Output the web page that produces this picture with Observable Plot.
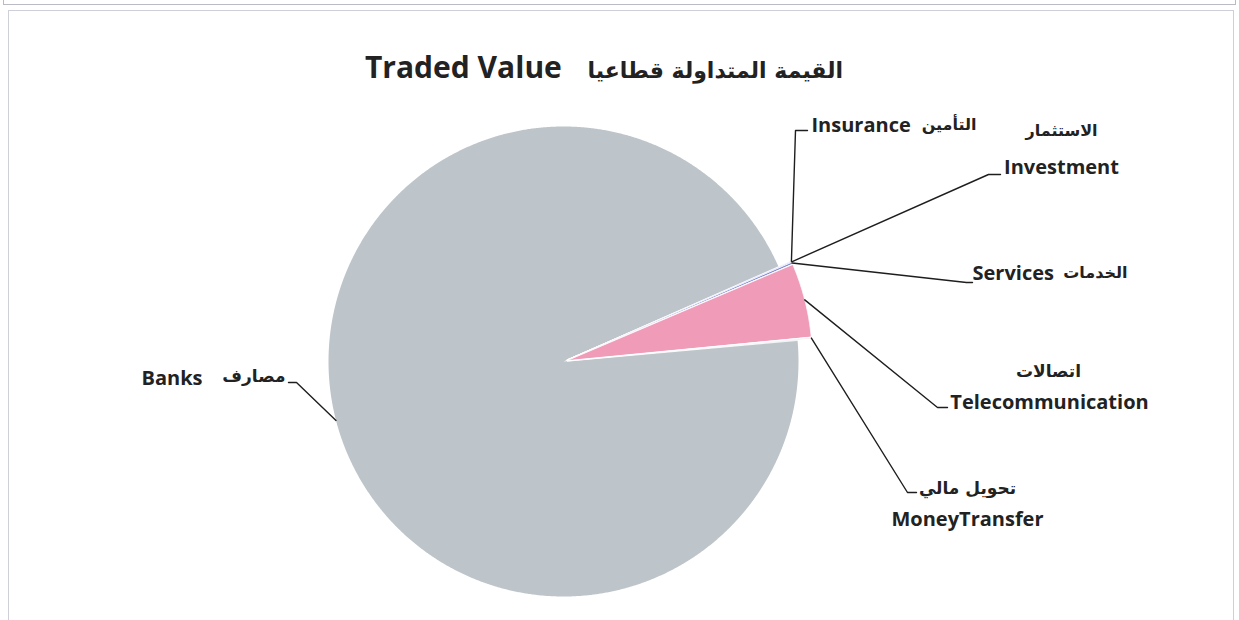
<!DOCTYPE html>
<html><head><meta charset="utf-8">
<script src="https://cdn.jsdelivr.net/npm/d3@7"></script>
<script src="https://cdn.jsdelivr.net/npm/@observablehq/plot@0.6"></script>
<style>
body{margin:0;background:#fff;width:1239px;height:620px;overflow:hidden;position:relative;font-family:"Open Sans","DejaVu Sans",sans-serif;}
#strip{position:absolute;left:3px;top:-2px;width:1231px;height:5px;border:1px solid #b9bcc4;}
#frame{position:absolute;left:8px;top:10px;width:1224px;height:640px;border:1px solid #cdd0d6;}
#title{position:absolute;left:365px;top:46px;width:478px;height:40px;display:flex;justify-content:space-between;align-items:baseline;color:#222;font-weight:700;white-space:nowrap;}
#title .en{font-family:"Open Sans",sans-serif;font-size:30px;}
#title .ar{font-family:"DejaVu Sans",sans-serif;font-size:22px;}
#chart{position:absolute;left:0;top:92px;}
</style></head>
<body>
<div id="strip"></div>
<div id="frame"></div>
<div id="title"><span class="en"></span><span class="ar" dir="rtl"></span></div>
<div id="chart"></div>
<script>
// ---- data ----
const titleEn = "Traded Value";
const titleAr = "القيمة المتداولة قطاعيا";
const sectorsEn = ["Insurance","Investment","Services","Telecommunication","MoneyTransfer","Banks"];
const sectorsAr = ["التأمين","الاستثمار","الخدمات","اتصالات","تحويل مالي","مصارف"];
const sectorValues = [0.03, 0.05, 0.12, 4.86, 0.1, 94.84];

// ---- styles / layout ----
const sectorColors = ["#8d9bd6","#9a8fcf","#7f8fd6","#f09bb7","#f2f2f6","#bdc5ca"];
const W = 1239, H = 528, TOP = 92;
const cx = 563, cy = 361 - TOP, rBase = 235, rSmall = 245, explode = 4;
const firstSliceDeg = 66.2;
// label layout (page coords): leader elbow + stub end, text pieces, arabic font size
const labelLayout = [
  {path:[[795,130],[807,130]], en:{x:811, y:125, a:"start"}, ar:{x:976, y:124, a:"end", fs:16}},
  {path:[[988,174],[1000,174]], en:{x:1061, y:167, a:"middle"}, ar:{x:1061, y:130, a:"middle", fs:16}},
  {path:[[966,282],[972,282]], en:{x:972, y:273, a:"start"}, ar:{x:1127, y:272, a:"end", fs:16}},
  {path:[[937,407],[947,407]], en:{x:1049, y:402, a:"middle"}, ar:{x:1048, y:371, a:"middle", fs:17}},
  {path:[[907,492],[916,492]], en:{x:967, y:519, a:"middle"}, ar:{x:967, y:488, a:"middle", fs:17}},
  {path:[[296,382],[288,382]], en:{x:141, y:378, a:"start"}, ar:{x:285, y:376, a:"end", fs:17}}
];

document.querySelector("#title .en").textContent = titleEn;
document.querySelector("#title .ar").textContent = titleAr;

const rows = sectorsEn.map((en,i)=>({en, ar:sectorsAr[i], value:sectorValues[i], color:sectorColors[i]}));
const a0 = firstSliceDeg*Math.PI/180;
const arcs = d3.pie().sort(null).value(d=>d.value).startAngle(a0).endAngle(a0+2*Math.PI)(rows);

function geom(a){
  const big = a.data.en === "Banks";
  const mid = (a.startAngle+a.endAngle)/2;
  const off = big ? 0 : explode;
  return {ox: cx + off*Math.sin(mid), oy: cy - off*Math.cos(mid), r: big ? rBase : rSmall, mid};
}
const sliceMarks = [];
[5,0,1,2,3,4].forEach(idx=>{
  const a = arcs[idx], g = geom(a);
  const pts = [{x:g.ox,y:g.oy}];
  const n = Math.max(2, Math.ceil((a.endAngle-a.startAngle)/0.005));
  for (let k=0;k<=n;k++){
    const t = a.startAngle + (a.endAngle-a.startAngle)*k/n;
    pts.push({x:g.ox + g.r*Math.sin(t), y:g.oy - g.r*Math.cos(t)});
  }
  sliceMarks.push(Plot.line(pts, {x:"x", y:"y", fill:a.data.color,
    stroke: a.data.en==="Banks" ? "none" : "#ffffff", strokeWidth:0.8, curve:"linear-closed"}));
});

const leaders = [], textsEn = [], textsAr = [];
arcs.forEach((a,idx)=>{
  const g = geom(a), L = labelLayout[idx];
  leaders.push({name:a.data.en, x:g.ox + g.r*Math.sin(g.mid), y:g.oy - g.r*Math.cos(g.mid)});
  L.path.forEach(p=>leaders.push({name:a.data.en, x:p[0], y:p[1]-TOP}));
  textsEn.push({t:a.data.en, x:L.en.x, y:L.en.y-TOP, a:L.en.a});
  textsAr.push({t:a.data.ar, x:L.ar.x, y:L.ar.y-TOP, a:L.ar.a, fs:L.ar.fs});
});

const textMarks = [];
["start","middle","end"].forEach(anc=>{
  textMarks.push(Plot.text(textsEn.filter(d=>d.a===anc), {x:"x", y:"y", text:"t", textAnchor:anc,
    fontSize:20, fontWeight:700, fill:"#222", fontFamily:"'Open Sans', sans-serif"}));
  [16,17].forEach(fs=>{
    textMarks.push(Plot.text(textsAr.filter(d=>d.a===anc && d.fs===fs), {x:"x", y:"y", text:"t", textAnchor:anc,
      fontSize:fs, fontWeight:700, fill:"#222", fontFamily:"'DejaVu Sans', sans-serif"}));
  });
});

const chart = Plot.plot({
  width: W, height: H, margin: 0,
  x: {domain:[0,W], range:[0,W], axis:null},
  y: {domain:[0,H], range:[0,H], axis:null},
  style: {background:"transparent", overflow:"visible"},
  marks: [
    ...sliceMarks,
    Plot.line(leaders, {x:"x", y:"y", z:"name", stroke:"#1e1e1e", strokeWidth:1.4}),
    ...textMarks
  ]
});
document.getElementById("chart").appendChild(chart);
</script>
</body></html>
